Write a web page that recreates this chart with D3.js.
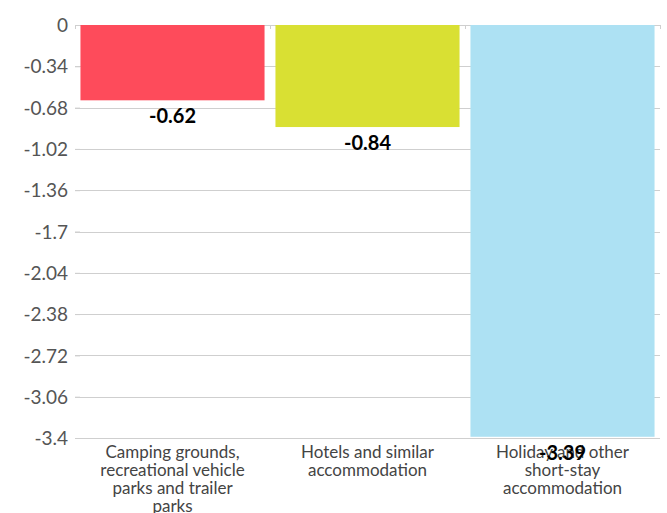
<!DOCTYPE html>
<html>
<head>
<meta charset="utf-8">
<script src="https://cdn.jsdelivr.net/npm/d3@7"></script>
<style>
  body { margin: 0; background: #fff; }
  svg { font-family: Lato, "Open Sans", sans-serif; }
  .grid line { stroke: #cfcfcf; }
  .yaxis text { fill: #555; font-size: 19px; font-family: Lato, sans-serif; }
  .xlab { fill: #444; font-size: 17px; }
  .vlab { fill: #000; font-size: 20px; font-weight: bold; }
</style>
</head>
<body>
<svg id="chart" width="667" height="513"></svg>
<script>
// chart data
var categories = [
  ["Camping grounds,", "recreational vehicle", "parks and trailer", "parks"],
  ["Hotels and similar", "accommodation"],
  ["Holiday and other", "short-stay", "accommodation"]
];
var values = [-0.62, -0.84, -3.39];
var colors = ["#fe4b5b", "#d9e033", "#ade1f3"];
var yTicks = [0, -0.34, -0.68, -1.02, -1.36, -1.7, -2.04, -2.38, -2.72, -3.06, -3.4];

var svg = d3.select("#chart");
var margin = {left: 75, right: 7, top: 25, bottom: 75};
var W = 667, H = 513;

var x = d3.scaleBand()
  .domain(d3.range(values.length))
  .range([margin.left, W - margin.right])
  .paddingInner(0.056)
  .paddingOuter(0.028);

var y = d3.scaleLinear()
  .domain([0, -3.4])
  .range([margin.top, H - margin.bottom]);

// gridlines
svg.append("g")
  .attr("class", "grid")
  .selectAll("line")
  .data(yTicks)
  .enter().append("line")
  .attr("x1", margin.left)
  .attr("x2", W - margin.right)
  .attr("y1", function(d) { return Math.round(y(d)) + 0.5; })
  .attr("y2", function(d) { return Math.round(y(d)) + 0.5; });

// y axis labels
var yAxis = d3.axisLeft(y)
  .tickValues(yTicks)
  .tickSize(5)
  .tickPadding(7)
  .tickFormat(function(d) { return +d.toFixed(2); });

var ya = svg.append("g")
  .attr("class", "yaxis")
  .attr("transform", "translate(" + (margin.left + 5) + ",0)")
  .call(yAxis);
ya.select(".domain").remove();
ya.selectAll(".tick line").attr("stroke", "#cfcfcf");
ya.selectAll("text").attr("dy", "0.35em");

// bars
svg.selectAll(".bar")
  .data(values)
  .enter().append("rect")
  .attr("class", "bar")
  .attr("x", function(d, i) { return x(i); })
  .attr("width", x.bandwidth())
  .attr("y", y(0))
  .attr("height", function(d) { return y(d) - y(0); })
  .attr("fill", function(d, i) { return colors[i]; });

// category tick marks at band boundaries on zero line
var step = x.step();
svg.selectAll(".xtick")
  .data(d3.range(values.length + 1))
  .enter().append("line")
  .attr("x1", function(i) { return margin.left + i * step + 0.5; })
  .attr("x2", function(i) { return margin.left + i * step + 0.5; })
  .attr("y1", y(0))
  .attr("y2", y(0) + 4)
  .attr("stroke", "#cfcfcf");

// category labels
svg.selectAll(".xlab")
  .data(categories)
  .enter().append("text")
  .attr("class", "xlab")
  .attr("text-anchor", "middle")
  .attr("x", function(d, i) { return x(i) + x.bandwidth() / 2; })
  .attr("y", H - margin.bottom + 20)
  .selectAll("tspan")
  .data(function(d) { return d; })
  .enter().append("tspan")
  .attr("x", function() { return d3.select(this.parentNode).attr("x"); })
  .attr("dy", function(d, j) { return j === 0 ? 0 : 18; })
  .text(function(d) { return d; });

// value labels
svg.selectAll(".vlab")
  .data(values)
  .enter().append("text")
  .attr("class", "vlab")
  .attr("text-anchor", "middle")
  .attr("x", function(d, i) { return x(i) + x.bandwidth() / 2; })
  .attr("y", function(d) { return y(d) + 23; })
  .text(function(d) { return d; });
</script>
</body>
</html>
